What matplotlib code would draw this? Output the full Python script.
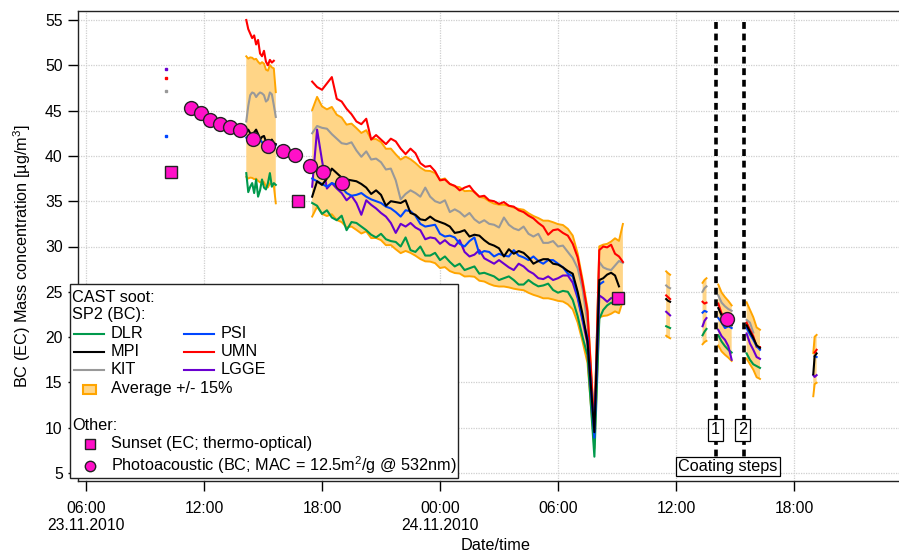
import warnings
import numpy as np
import matplotlib
matplotlib.use('Agg')
import matplotlib.pyplot as plt
from matplotlib.lines import Line2D
from matplotlib.patches import Rectangle

plt.rcParams['font.family'] = ['Liberation Sans', 'DejaVu Sans']
plt.rcParams['mathtext.fontset'] = 'custom'
plt.rcParams['mathtext.rm'] = 'Liberation Sans'
plt.rcParams['mathtext.it'] = 'Liberation Sans:italic'
plt.rcParams['mathtext.bf'] = 'Liberation Sans:bold'

nan = np.nan

# ---------------- data (time in hours since 23.11.2010 00:00) ----------------
time_h = (
    [14.15, 14.25, 14.35, 14.45, 14.55, 14.65, 14.75, 14.85, 14.95, 15.05, 15.15, 15.25, 15.35, 15.45, 15.55, 15.65]
    + [16.6]
    + [17.5, 17.75, 18.0, 18.25, 18.5, 18.75, 19.0, 19.25, 19.5, 19.75, 20.0, 20.25, 20.5, 20.75, 21.0, 21.25,
       21.5, 21.75, 22.0, 22.25, 22.5, 22.75, 23.0, 23.25, 23.5, 23.75, 24.0, 24.25, 24.5, 24.75, 25.0, 25.25,
       25.5, 25.75, 26.0, 26.25, 26.5, 26.75, 27.0, 27.25, 27.5, 27.75, 28.0, 28.25, 28.5, 28.75, 29.0, 29.25,
       29.5, 29.75, 30.0, 30.25, 30.5, 30.75, 31.0, 31.25, 31.5]
    + [31.85]
    + [32.1, 32.3, 32.5, 32.7, 32.9, 33.1, 33.3]
    + [34.4] + [35.5, 35.6, 35.7]
    + [36.5] + [37.35, 37.45, 37.55]
    + [37.85] + [38.15, 38.32, 38.49, 38.66, 38.83]
    + [39.2] + [39.59, 39.76, 39.93, 40.1, 40.27]
    + [41.5] + [42.98, 43.05, 43.15, 43.23]
)

DLR = (
    [38.1, 36.0, 36.6, 37.0, 35.9, 37.4, 35.5, 36.2, 37.4, 36.5, 36.3, 37.0, 38.1, 36.6, 37.0, 36.8]
    + [nan]
    + [34.8, 34.5, 33.6, 34.0, 33.2, 32.9, 33.4, 31.8, 32.7, 32.6, 32.2, 31.8, 31.3, 31.0, 31.4, 30.8,
       30.6, 30.5, 30.0, 31.0, 29.6, 29.4, 30.0, 29.0, 29.0, 29.3, 28.5, 28.9, 28.3, 27.8, 28.1, 27.4,
       27.6, 27.8, 27.0, 27.1, 26.9, 26.7, 26.3, 26.5, 26.7, 26.3, 25.8, 25.8, 26.3, 25.9, 25.6, 25.7,
       25.9, 25.2, 24.9, 25.1, 25.0, 24.1, 22.3, 20.0, 18.0]
    + [6.8]
    + [22.0, 23.0, 23.5, 23.8, 23.6, 23.6, nan]
    + [nan] + [21.2, 21.1, 21.0]
    + [nan] + [20.2, 20.6, 20.9]
    + [nan] + [20.2, 19.5, 19.0, 18.6, 18.3]
    + [nan] + [18.2, 17.5, 17.0, 16.8, 16.6]
    + [nan] + [nan, nan, nan, nan]
)

MPI = (
    [42.8, 42.9, 42.5, 42.3, 42.6, 42.9, 42.4, 41.8, 42.1, 42.2, 41.6, 41.0, 41.5, 41.8, 41.4, 41.3]
    + [nan]
    + [35.5, 37.2, 36.8, 37.5, 38.6, 38.1, 37.6, 37.4, 37.3, 37.2, 36.9, 36.5, 35.8, 36.2, 35.7, 34.5,
       35.0, 34.9, 34.8, 35.1, 33.7, 33.5, 33.0, 32.9, 33.3, 32.9, 32.7, 32.5, 32.2, 31.5, 31.6, 31.8,
       31.1, 31.3, 31.2, 30.7, 30.3, 30.1, 29.8, 28.9, 29.7, 29.2, 29.5, 29.3, 28.8, 28.1, 28.4, 28.6,
       28.6, 28.1, 28.0, 27.7, 27.3, 27.0, 25.0, 22.5, 19.5]
    + [9.5]
    + [26.3, 26.5, 26.9, 27.1, 26.8, 25.6, nan]
    + [nan] + [24.2, 24.0, 23.9]
    + [nan] + [nan, nan, nan]
    + [nan] + [23.2, 22.4, 22.0, 21.5, 21.3]
    + [nan] + [21.3, 20.6, 19.9, 19.1, 18.8]
    + [nan] + [15.9, 17.9, 18.2, nan]
)

KIT = (
    [43.8, 45.5, 46.7, 47.0, 46.9, 46.5, 46.8, 47.0, 46.9, 46.7, 46.0, 46.2, 47.0, 46.8, 45.6, 44.3]
    + [nan]
    + [42.5, 43.3, 43.1, 43.0, 42.4, 41.9, 41.4, 41.3, 41.5, 40.6, 39.9, 40.5, 39.6, 39.7, 39.3, 38.5,
       38.6, 37.3, 35.2, 35.8, 36.2, 35.9, 35.5, 36.5, 35.5, 35.0, 34.8, 35.1, 33.8, 34.1, 33.8, 33.3,
       33.7, 33.0, 32.6, 32.9, 32.5, 32.4, 32.1, 33.2, 32.4, 32.0, 31.8, 32.2, 31.4, 31.1, 31.4, 30.4,
       30.4, 30.6, 30.0, 30.1, 29.4, 28.7, 27.6, 25.3, 21.5]
    + [10.0]
    + [28.3, 27.7, 27.5, 27.4, 27.9, 28.4, 28.2]
    + [nan] + [25.7, 25.5, 25.4]
    + [nan] + [25.0, 25.4, 25.6]
    + [nan] + [24.6, 23.8, 23.4, 23.1, 22.9]
    + [nan] + [21.9, 21.6, 20.5, nan, nan]
    + [nan] + [nan, nan, nan, nan]
)

PSI = (
    [42.0, 42.2, 41.9, 41.7, 41.5, 41.4, 41.6, 41.8, 41.5, 41.2, 41.0, 40.6, 40.3, 40.9, 41.4, 41.2]
    + [nan]
    + [37.5, 37.2, 36.9, 36.6, 37.0, 36.8, 36.5, 35.9, 35.6, 35.7, 35.9, 35.5, 35.2, 35.0, 34.8, 34.4,
       34.2, 33.8, 33.3, 34.0, 33.9, 33.4, 32.5, 32.2, 32.3, 32.4, 31.4, 31.1, 31.2, 31.0, 30.3, 30.0,
       30.6, 31.0, 29.2, 29.5, 29.4, 28.9, 29.2, 29.0, 28.9, 29.6, 29.0, 28.8, 28.5, 28.9, 28.4, 28.1,
       28.5, 28.5, 28.1, 27.7, 27.0, 26.7, 24.5, 22.0, 19.9]
    + [8.9]
    + [25.8, 26.1, nan, nan, nan, nan, nan]
    + [nan] + [nan, nan, nan]
    + [nan] + [22.7, 22.9, 22.8]
    + [nan] + [22.1, 21.6, 21.0, 21.2, 21.0]
    + [nan] + [21.0, 20.3, 19.7, 19.0, 18.6]
    + [nan] + [nan, 17.9, 17.8, nan]
)

UMN = (
    [55.0, 54.0, 53.5, 53.0, 53.3, 52.3, 52.8, 51.3, 51.0, 51.6, 50.4, 50.0, 50.6, 50.3, 50.5, nan]
    + [nan]
    + [48.2, 47.6, 47.3, 48.0, 48.7, 46.3, 46.0, 45.2, 44.6, 43.8, 43.5, 44.1, 41.8, 42.3, 41.8, 41.3,
       41.9, 41.6, 40.8, 40.2, 40.8, 40.3, 39.2, 38.8, 38.9, 38.3, 37.3, 37.4, 36.9, 36.7, 36.2, 36.5,
       36.7, 36.0, 35.5, 35.6, 35.1, 35.0, 34.7, 34.9, 34.5, 34.4, 34.0, 33.8, 33.4, 33.1, 32.6, 32.2,
       31.3, 31.8, 31.9, 31.5, 31.2, 30.3, 28.8, 26.0, 22.8]
    + [9.8]
    + [29.6, 30.0, 29.9, 30.2, 29.2, 28.9, 28.3]
    + [nan] + [24.6, 24.4, 24.2]
    + [nan] + [23.9, 23.7, 23.8]
    + [nan] + [23.7, 22.6, 22.3, 21.8, 21.6]
    + [nan] + [21.6, 20.8, 20.1, 18.9, 18.9]
    + [nan] + [nan, 18.3, 18.6, nan]
)

LGGE = (
    [nan] * 16
    + [nan]
    + [36.6, 42.9, 39.5, 36.4, 37.0, 36.4, 35.9, 35.1, 35.6, 34.8, 33.5, 35.1, 34.6, 34.2, 33.7, 33.3,
       32.6, 31.5, 32.5, 32.2, 32.6, 32.1, 31.8, 30.8, 31.0, 30.9, 30.3, 30.7, 30.2, 30.0, 30.7, 29.4,
       28.9, 29.1, 29.6, 28.7, 28.4, 28.1, 28.5, 28.1, 27.7, 27.4, 28.1, 27.8, 27.3, 27.0, 26.5, 26.4,
       26.7, 26.3, 26.5, 26.8, 26.8, 26.0, 24.3, 21.8, 19.3]
    + [9.5]
    + [24.6, 24.3, 23.9, 24.3, nan, nan, nan]
    + [nan] + [22.8, 22.6, 22.4]
    + [nan] + [21.2, 21.8, 22.1]
    + [nan] + [20.8, 20.1, 19.7, 19.0, 17.5]
    + [nan] + [20.4, 19.3, 18.6, 17.8, 17.6]
    + [nan] + [15.8, 15.6, 15.8, nan]
)

# isolated early readings
early_time = 10.07
early_vals = {'LGGE': 49.6, 'UMN': 48.6, 'KIT': 47.2, 'PSI': 42.2}

sunset_time = [10.32, 16.78, 33.05]
sunset_val = [38.2, 35.0, 24.3]

photo_time = [11.32, 11.83, 12.32, 12.83, 13.32, 13.83, 14.51, 15.27, 16.02, 16.63, 17.40, 18.07, 19.0, 38.57]
photo_val = [45.3, 44.7, 44.0, 43.5, 43.2, 42.9, 41.9, 41.1, 40.5, 40.1, 38.9, 38.2, 37.0, 22.0]

coating_time = [38.03, 39.48]
coating_label = ['1', '2']

xtick_pos = [6, 12, 18, 24, 30, 36, 42]
xtick_lab = ['06:00\n23.11.2010', '12:00', '18:00', '00:00\n24.11.2010', '06:00', '12:00', '18:00']

# ---------------- styling ----------------
COL = {'DLR': '#00994c', 'MPI': '#000000', 'KIT': '#999999',
       'PSI': '#0046ff', 'UMN': '#ff0000', 'LGGE': '#6a00d0'}
BAND_FILL = '#ffd587'
BAND_EDGE = '#ffa500'
MAGENTA = '#ff10c8'
FS = 11.7
FS_TICK = 11.3

series = {'DLR': DLR, 'MPI': MPI, 'KIT': KIT, 'PSI': PSI, 'UMN': UMN, 'LGGE': LGGE}
for k, v in series.items():
    if len(v) != len(time_h):
        raise ValueError(f'{k}: {len(v)} vs {len(time_h)}')

t = np.array(time_h)
stack = np.array([series[k] for k in series], dtype=float)
with warnings.catch_warnings():
    warnings.simplefilter('ignore')
    avg = np.nanmean(stack, axis=0)
upper = avg * 1.15
lower = avg * 0.85

W, H = 899, 553
fig = plt.figure(figsize=(W / 100, H / 100), dpi=100)
ax_l, ax_r, ax_t, ax_b = 78, 899, 11, 481
ax = fig.add_axes([ax_l / W, 1 - ax_b / H, (ax_r - ax_l) / W, (ax_b - ax_t) / H])

px_per_h = (794 - 86) / 36.0
px_per_v = (473 - 20) / 50.0
ax.set_xlim(6 - (86 - ax_l) / px_per_h, 6 + (ax_r - 86) / px_per_h)
ax.set_ylim(5 - (ax_b - 473) / px_per_v, 55 + (20 - ax_t) / px_per_v)

ax.grid(True, color='#cfcfcf', linestyle=(0, (1, 1)), linewidth=0.9, zorder=0)
ax.set_axisbelow(True)

# band
ax.fill_between(t, lower, upper, color=BAND_FILL, lw=0, zorder=1)
ax.plot(t, upper, color=BAND_EDGE, lw=1.4, zorder=2)
ax.plot(t, lower, color=BAND_EDGE, lw=1.4, zorder=2)

for k in ['KIT', 'UMN', 'DLR', 'LGGE', 'PSI', 'MPI']:
    ax.plot(t, series[k], color=COL[k], lw=1.5, zorder=3)

for k, v in early_vals.items():
    ax.plot([early_time], [v], marker='s', ms=2, color=COL[k], ls='none', zorder=3)

# coating-step dashed lines
for ct in coating_time:
    ax.plot([ct, ct], [5.5, 55.2], color='black', lw=2.6, ls=(0, (1.9, 1.3)), zorder=5)

ax.plot(sunset_time, sunset_val, ls='none', marker='s', ms=9, mfc=MAGENTA, mec='#222222', mew=1, zorder=6)
ax.plot(photo_time, photo_val, ls='none', marker='o', ms=10, mfc=MAGENTA, mec='#222222', mew=1, zorder=7)

# coating labels
label_x = [38.02, 39.38]
for lx, lab in zip(label_x, coating_label):
    ax.text(lx, 9.75, lab, ha='center', va='center', fontsize=FS, zorder=8,
            bbox=dict(boxstyle='square,pad=0.2', fc='white', ec='black', lw=0.9))
ax.text(38.64, 5.72, 'Coating steps', ha='center', va='center', fontsize=FS, zorder=8,
        bbox=dict(boxstyle='square,pad=0.15', fc='white', ec='black', lw=0.9))

# axes styling
ax.spines['right'].set_visible(False)
for s in ['left', 'bottom', 'top']:
    ax.spines[s].set_linewidth(1.0)
    ax.spines[s].set_color('#222222')
ax.set_xticks(xtick_pos)
ax.set_xticklabels(xtick_lab, fontsize=FS_TICK, linespacing=1.12)
ax.set_yticks(range(5, 56, 5))
ax.tick_params(axis='x', direction='out', length=7, width=1, pad=7.5)
ax.tick_params(axis='y', direction='out', length=7, width=1, pad=4, labelsize=FS_TICK)
ax.tick_params(top=False, right=False)

def fx(x):
    return x / W

def fy(y):
    return 1 - y / H

fig.text(fx(22), fy(256), 'BC (EC) Mass concentration [µg/m$^3$]', rotation=90,
         ha='center', va='center', fontsize=FS)
fig.text(fx(496), fy(546), 'Date/time', ha='center', va='center', fontsize=FS)

# ---------------- legend (drawn by hand) ----------------
fig.add_artist(Rectangle((fx(70), fy(478)), (458 - 70) / W, (478 - 284) / H,
                         transform=fig.transFigure, fc='white', ec='#222222', lw=1.0, zorder=10))

def ltext(x, y, s):
    fig.text(fx(x), fy(y), s, ha='left', va='center', fontsize=FS, zorder=11)

def lline(x0, x1, y, c):
    fig.add_artist(Line2D([fx(x0), fx(x1)], [fy(y), fy(y)], transform=fig.transFigure,
                          color=c, lw=1.5, zorder=11))

ltext(72.5, 297, 'CAST soot:')
ltext(72.5, 315, 'SP2 (BC):')
rows = [('DLR', 'PSI', 333.5), ('MPI', 'UMN', 351.5), ('KIT', 'LGGE', 369.5)]
for a, b, y in rows:
    lline(74, 104, y, COL[a])
    ltext(111, y, a)
    lline(184, 214, y, COL[b])
    ltext(221, y, b)
fig.add_artist(Rectangle((fx(83), fy(393.5)), 13 / W, 9 / H, transform=fig.transFigure,
                         fc=BAND_FILL, ec=BAND_EDGE, lw=1.5, zorder=11))
ltext(111, 388.5, 'Average +/- 15%')
ltext(72.5, 425, 'Other:')
fig.add_artist(Line2D([fx(89.5)], [fy(443.5)], transform=fig.transFigure, marker='s', ms=7,
                      mfc=MAGENTA, mec='#222222', mew=1, ls='none', zorder=11))
ltext(111, 443.5, 'Sunset (EC; thermo-optical)')
fig.add_artist(Line2D([fx(89.5)], [fy(466)], transform=fig.transFigure, marker='o', ms=7.5,
                      mfc=MAGENTA, mec='#222222', mew=1, ls='none', zorder=11))
ltext(111, 465, 'Photoacoustic (BC; MAC = 12.5m$^2$/g @ 532nm)')

fig.savefig('out.png', dpi=100)
